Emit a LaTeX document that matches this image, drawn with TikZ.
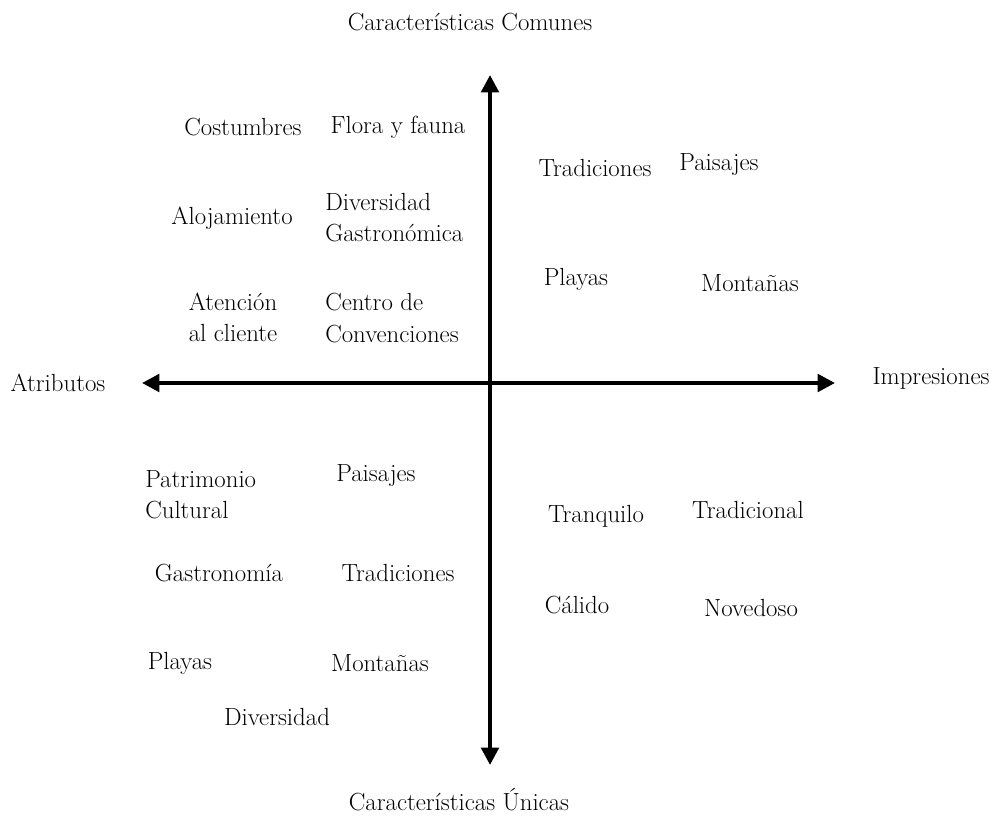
\documentclass[tikz,border=0pt]{standalone}
\usepackage{fontspec}
\usetikzlibrary{arrows.meta}
\tikzset{
	lbl/.style={font=\fontsize{18.6}{23.3}\selectfont, inner sep=0pt},
	axis/.style={line width=3pt, {Triangle[length=13pt, width=13pt]}-{Triangle[length=13pt, width=13pt]}}
}
\begin{document}
\begin{tikzpicture}[x=0.75pt, y=-0.75pt]
		\useasboundingbox (0, 0) rectangle (1003, 816);
		% ejes
		\coordinate (top) at (490, 75);
		\coordinate (bottom) at (490, 765);
		\coordinate (left) at (142, 383);
		\coordinate (right) at (835, 383);
		\draw[axis] (top) -- (bottom);
		\draw[axis] (left) -- (right);
		\node[lbl] (comunes) at (470, 22) {Características Comunes};
		\node[lbl] (unicas) at (459, 800) {Características Únicas};
		\node[lbl] (atributos) at (58, 383) {Atributos};
		\node[lbl] (impresiones) at (931, 378) {Impresiones};
		% etiquetas de una linea
		\foreach \name/\x/\y/\txt in {costumbres/243/127/Costumbres, flora/398/127/Flora y fauna,
			tradA/595/168/Tradiciones, paisA/719/165/Paisajes, alojamiento/232/218/Alojamiento,
			playA/576/279/Playas, montA/750/283/Montañas, paisB/376/476/Paisajes,
			tranquilo/596/516/Tranquilo, tradicional/748/510/Tradicional, gastro/219/573/Gastronomía,
			tradB/398/573/Tradiciones, calido/577/605/Cálido, novedoso/751/608/Novedoso,
			playB/180/663/Playas, montB/380/663/Montañas, diversidad/277/717/Diversidad}{
			\node[lbl] (\name) at (\x, \y) {\txt};}
		% etiquetas de dos lineas
		\node[lbl, align=left, anchor=west] (divgastro) at (325, 218) {Diversidad\\Gastronómica};
		\node[lbl, align=center] (atencion) at (233, 317) {Atención\\al cliente};
		\node[lbl, align=left, anchor=west] (centro) at (325, 318) {Centro de\\Convenciones};
		\node[lbl, align=left, anchor=west] (patrimonio) at (145, 495) {Patrimonio\\Cultural};
		\end{tikzpicture}
\end{document}
